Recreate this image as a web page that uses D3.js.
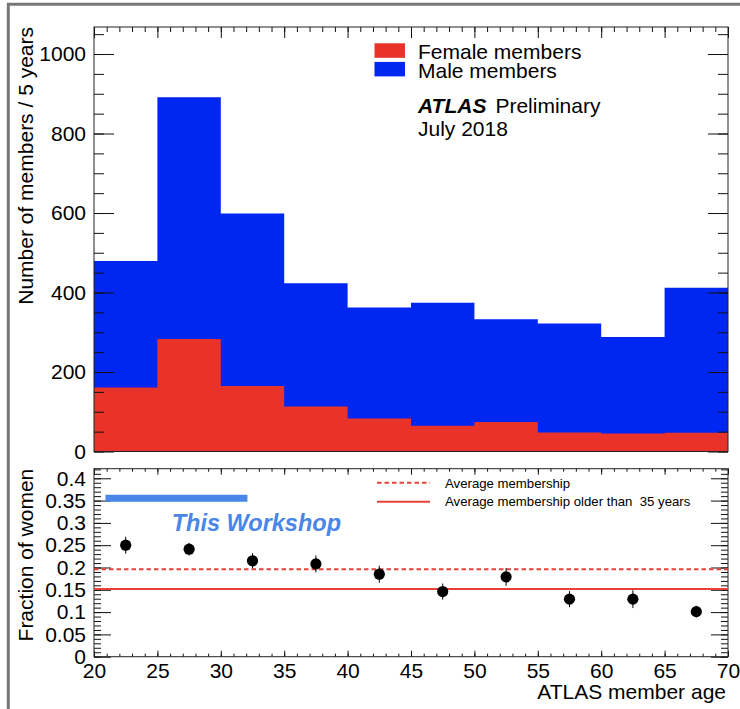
<!DOCTYPE html>
<html>
<head>
<meta charset="utf-8">
<script src="https://cdn.jsdelivr.net/npm/d3@7"></script>
<style>
  html, body { margin: 0; padding: 0; background: #fff; }
  svg { display: block; font-family: "Liberation Sans", Arial, Helvetica, sans-serif; }
</style>
</head>
<body>
<svg id="chart" width="740" height="709"></svg>
<script>
// ---------- data ----------
const binLow = [20, 25, 30, 35, 40, 45, 50, 55, 60, 65];
const binWidth = 5;
const maleMembers   = [479, 891, 599, 423, 362, 374, 333, 322, 288, 412];
const femaleMembers = [161, 283, 165, 113, 83, 65, 74, 48, 45, 47];
const fractionWomen = [0.250, 0.241, 0.215, 0.208, 0.185, 0.146, 0.179, 0.129, 0.129, 0.101];
const fractionErr   = [0.019, 0.014, 0.017, 0.019, 0.019, 0.018, 0.020, 0.018, 0.020, 0.013];
const avgMembership = 0.196;
const avgMembershipOver35 = 0.152;
const workshopAges = [20.9, 32.1];
const workshopLevel = 0.355;
const topYTicks = [0, 200, 400, 600, 800, 1000];
const botYTicks = [0, 0.05, 0.1, 0.15, 0.2, 0.25, 0.3, 0.35, 0.4];
const xTicks = [20, 25, 30, 35, 40, 45, 50, 55, 60, 65, 70];
const legendTop = ["Female members", "Male members"];
const legendBottom = ["Average membership", "Average membership older than  35 years"];

(function () {
const RED = "#e8322a", BLUE = "#0026f2", LINE_RED = "#e8413a", WS_BLUE = "#4a86e8";

const svg = d3.select("#chart");

// frame (grey border of the original picture)
svg.append("line").attr("x1", 7).attr("x2", 740).attr("y1", 4.3).attr("y2", 4.3)
  .attr("stroke", "#777").attr("stroke-width", 3);
svg.append("line").attr("x1", 8.3).attr("x2", 8.3).attr("y1", 3).attr("y2", 709)
  .attr("stroke", "#777").attr("stroke-width", 3);

const L = 94, R = 728;
const x = d3.scaleLinear().domain([20, 70]).range([L, R]);
const yTop = d3.scaleLinear().domain([0, 1068]).range([451.5, 27]);
const yBot = d3.scaleLinear().domain([0, 0.4215]).range([656.7, 468.7]);

const seq = (a, b, s) => d3.range(a, b + s / 2, s).map(v => +v.toFixed(4));

// ---------- top panel ----------
const topG = svg.append("g");
function histPoints(vals) {
  const pts = binLow.map((d, i) => [d, vals[i]]);
  pts.push([binLow[binLow.length - 1] + binWidth, vals[vals.length - 1]]);
  return pts;
}
const stepArea = d3.area().curve(d3.curveStepAfter)
  .x(d => x(d[0])).y0(yTop(0)).y1(d => yTop(d[1]));
topG.append("path").datum(histPoints(maleMembers)).attr("d", stepArea).attr("fill", BLUE);
topG.append("path").datum(histPoints(femaleMembers)).attr("d", stepArea).attr("fill", RED);

function styleAxis(g) {
  g.select(".domain").remove();
  g.selectAll(".tick line").attr("stroke", "#111").attr("stroke-width", 1);
  g.selectAll("text").attr("font-size", 21).attr("fill", "#000")
    .attr("font-family", "'Liberation Sans', Arial, Helvetica, sans-serif");
}

topG.append("g").attr("transform", `translate(${L},0)`)
  .call(d3.axisLeft(yTop).tickValues(seq(0, 1050, 50)).tickSize(-10).tickFormat(""))
  .call(styleAxis);
topG.append("g").attr("transform", `translate(${L},0)`)
  .call(d3.axisLeft(yTop).tickValues(topYTicks).tickSize(-20).tickPadding(8).tickFormat(d3.format("d")))
  .call(styleAxis);
topG.append("g").attr("transform", `translate(${R},0)`)
  .call(d3.axisRight(yTop).tickValues(seq(0, 1050, 50)).tickSize(-10).tickFormat(""))
  .call(styleAxis);
topG.append("g").attr("transform", `translate(${R},0)`)
  .call(d3.axisRight(yTop).tickValues(topYTicks).tickSize(-20).tickFormat(""))
  .call(styleAxis);
topG.append("g").attr("transform", `translate(0,27)`)
  .call(d3.axisTop(x).tickValues(seq(20, 70, 1)).tickSize(-5).tickFormat(""))
  .call(styleAxis);
topG.append("g").attr("transform", `translate(0,27)`)
  .call(d3.axisTop(x).tickValues(xTicks).tickSize(-11).tickFormat(""))
  .call(styleAxis);
topG.append("rect").attr("x", L).attr("y", 27).attr("width", R - L).attr("height", yTop(0) - 27)
  .attr("fill", "none").attr("stroke", "#222").attr("stroke-width", 1);

svg.append("text")
  .attr("transform", `translate(33,27) rotate(-90)`)
  .attr("text-anchor", "end").attr("font-size", 21)
  .text("Number of members / 5 years");

const legCol = [RED, BLUE];
legendTop.forEach((t, i) => {
  svg.append("rect").attr("x", 374.5).attr("y", 43.3 + i * 18.6).attr("width", 30.5).attr("height", 14.5)
    .attr("fill", legCol[i]);
  svg.append("text").attr("x", 418).attr("y", 58.8 + i * 19.6).attr("font-size", 21).text(t);
});
const atlas = svg.append("text").attr("x", 418).attr("y", 113.3).attr("font-size", 21);
atlas.append("tspan").attr("font-weight", "bold").attr("font-style", "italic").text("ATLAS");
atlas.append("tspan").attr("dx", 9).text("Preliminary");
svg.append("text").attr("x", 418).attr("y", 135.5).attr("font-size", 21).text("July 2018");

// ---------- bottom panel ----------
const bot = svg.append("g");
const B0 = yBot(0), B1 = yBot.range()[1];

bot.append("g").attr("transform", `translate(${L},0)`)
  .call(d3.axisLeft(yBot).tickValues(seq(0, 0.42, 0.01)).tickSize(-7).tickFormat(""))
  .call(styleAxis);
bot.append("g").attr("transform", `translate(${L},0)`)
  .call(d3.axisLeft(yBot).tickValues(botYTicks).tickSize(-17).tickPadding(8).tickFormat(d => String(+d.toFixed(2))))
  .call(styleAxis);
bot.append("g").attr("transform", `translate(${R},0)`)
  .call(d3.axisRight(yBot).tickValues(seq(0, 0.42, 0.01)).tickSize(-7).tickFormat(""))
  .call(styleAxis);
bot.append("g").attr("transform", `translate(${R},0)`)
  .call(d3.axisRight(yBot).tickValues(botYTicks).tickSize(-17).tickFormat(""))
  .call(styleAxis);
bot.append("g").attr("transform", `translate(0,${B0})`)
  .call(d3.axisBottom(x).tickValues(seq(20, 70, 1)).tickSize(-3).tickFormat(""))
  .call(styleAxis);
const xAx = bot.append("g").attr("transform", `translate(0,${B0})`)
  .call(d3.axisBottom(x).tickValues(xTicks).tickSize(-6).tickFormat(d3.format("d")))
  .call(styleAxis);
xAx.selectAll("text").attr("dy", null).attr("y", 21);
bot.append("g").attr("transform", `translate(0,${B1})`)
  .call(d3.axisTop(x).tickValues(seq(20, 70, 1)).tickSize(-3).tickFormat(""))
  .call(styleAxis);
bot.append("g").attr("transform", `translate(0,${B1})`)
  .call(d3.axisTop(x).tickValues(xTicks).tickSize(-6).tickFormat(""))
  .call(styleAxis);
bot.append("rect").attr("x", L).attr("y", B1).attr("width", R - L).attr("height", B0 - B1)
  .attr("fill", "none").attr("stroke", "#222").attr("stroke-width", 1);

bot.append("line").attr("x1", L).attr("x2", R).attr("y1", yBot(avgMembership)).attr("y2", yBot(avgMembership))
  .attr("stroke", LINE_RED).attr("stroke-width", 2).attr("stroke-dasharray", "4.5,3");
bot.append("line").attr("x1", L).attr("x2", R).attr("y1", yBot(avgMembershipOver35)).attr("y2", yBot(avgMembershipOver35))
  .attr("stroke", LINE_RED).attr("stroke-width", 2);

bot.append("line").attr("x1", x(workshopAges[0])).attr("x2", x(workshopAges[1]))
  .attr("y1", yBot(workshopLevel)).attr("y2", yBot(workshopLevel))
  .attr("stroke", WS_BLUE).attr("stroke-width", 7);
bot.append("text").attr("x", 171.7).attr("y", 531).attr("font-size", 23.5)
  .attr("font-weight", "bold").attr("font-style", "italic").attr("fill", WS_BLUE)
  .text("This Workshop");

const centers = binLow.map(d => d + binWidth / 2);
bot.selectAll("line.err").data(centers).join("line").attr("class", "err")
  .attr("x1", d => x(d)).attr("x2", d => x(d))
  .attr("y1", (d, i) => yBot(fractionWomen[i] - fractionErr[i]))
  .attr("y2", (d, i) => yBot(fractionWomen[i] + fractionErr[i]))
  .attr("stroke", "#000").attr("stroke-width", 1);
bot.selectAll("circle.pt").data(centers).join("circle").attr("class", "pt")
  .attr("cx", d => x(d)).attr("cy", (d, i) => yBot(fractionWomen[i]))
  .attr("r", 5.6).attr("fill", "#000");

bot.append("line").attr("x1", 377).attr("x2", 430).attr("y1", 482.7).attr("y2", 482.7)
  .attr("stroke", LINE_RED).attr("stroke-width", 2).attr("stroke-dasharray", "4.5,3");
bot.append("line").attr("x1", 377).attr("x2", 430).attr("y1", 501.7).attr("y2", 501.7)
  .attr("stroke", LINE_RED).attr("stroke-width", 2);
legendBottom.forEach((t, i) => {
  bot.append("text").attr("x", 445).attr("y", 487.5 + i * 18.5).attr("font-size", 13.2)
    .attr("xml:space", "preserve").style("white-space", "pre").text(t);
});

svg.append("text")
  .attr("transform", `translate(33,${B1}) rotate(-90)`)
  .attr("text-anchor", "end").attr("font-size", 21)
  .text("Fraction of women");
svg.append("text").attr("x", 726).attr("y", 699).attr("text-anchor", "end").attr("font-size", 21)
  .text("ATLAS member age");
})();
</script>
</body>
</html>
